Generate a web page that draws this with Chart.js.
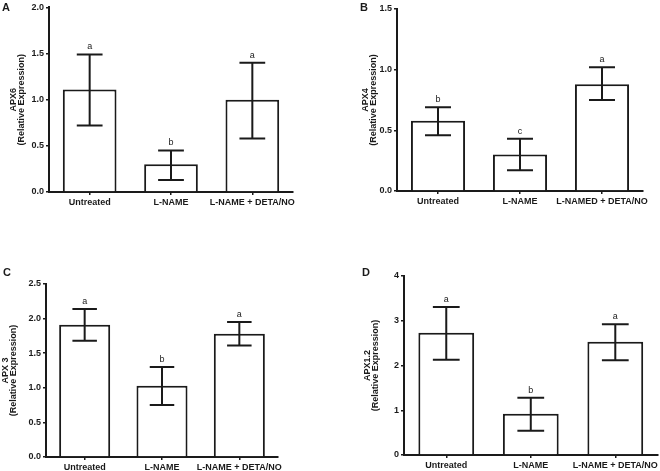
<!DOCTYPE html>
<html>
<head>
<meta charset="utf-8">
<script src="https://cdn.jsdelivr.net/npm/chart.js@4.4.1/dist/chart.umd.min.js"></script>
<style>
  body { margin: 0; background: #fff; }
  #wrap { position: relative; width: 660px; height: 471px; overflow: hidden; }
  .panel { position: absolute; }
  .tag { position: absolute; font: bold 11px "Liberation Sans", Arial, sans-serif; color: #1a1a1a; }
</style>
</head>
<body>
<div id="wrap">
  <div class="panel" style="left:0;top:0;width:330px;height:235px"><canvas id="chartA"></canvas></div>
  <div class="panel" style="left:330px;top:0;width:330px;height:235px"><canvas id="chartB"></canvas></div>
  <div class="panel" style="left:0;top:235px;width:330px;height:236px"><canvas id="chartC"></canvas></div>
  <div class="panel" style="left:330px;top:235px;width:330px;height:236px"><canvas id="chartD"></canvas></div>
  <div class="tag" style="left:2px;top:1px">A</div>
  <div class="tag" style="left:360px;top:1px">B</div>
  <div class="tag" style="left:3px;top:266px">C</div>
  <div class="tag" style="left:362px;top:266px">D</div>
</div>
<script>
// treatment groups
const groups = ['Untreated', 'L-NAME', 'L-NAME + DETA/NO'];
const groupsB = ['Untreated', 'L-NAME', 'L-NAMED + DETA/NO'];

// APX6
const apx6Mean = [1.11, 0.30, 1.00];
const apx6Low = [0.72, 0.13, 0.58];
const apx6High = [1.49, 0.45, 1.40];
const apx6Letters = ['a', 'b', 'a'];

// APX4
const apx4Mean = [0.58, 0.30, 0.88];
const apx4Low = [0.46, 0.17, 0.75];
const apx4High = [0.69, 0.43, 1.02];
const apx4Letters = ['b', 'c', 'a'];

// APX 3
const apx3Mean = [1.91, 1.03, 1.78];
const apx3Low = [1.68, 0.75, 1.61];
const apx3High = [2.14, 1.30, 1.95];
const apx3Letters = ['a', 'b', 'a'];

// APX1.2
const apx12Mean = [2.73, 0.92, 2.53];
const apx12Low = [2.13, 0.54, 2.12];
const apx12High = [3.31, 1.28, 2.92];
const apx12Letters = ['a', 'b', 'a'];

const INK = '#1a1a1a';
const FONT = '"Liberation Sans", Arial, sans-serif';

Chart.defaults.animation = false;
Chart.defaults.font.family = FONT;
Chart.defaults.color = INK;

// draws the SD bars and the significance letters on top of each bar
const errorBars = {
  id: 'errorBars',
  afterDatasetsDraw(chart, args, opts) {
    const ctx = chart.ctx;
    const y = chart.scales.y;
    const meta = chart.getDatasetMeta(0);
    ctx.save();
    ctx.strokeStyle = INK;
    ctx.lineWidth = 2;
    meta.data.forEach((bar, i) => {
      const x = bar.x;
      const half = bar.width * 0.24;
      const top = y.getPixelForValue(opts.high[i]);
      const bot = y.getPixelForValue(opts.low[i]);
      ctx.beginPath();
      ctx.moveTo(x, top); ctx.lineTo(x, bot);
      ctx.moveTo(x - half, top); ctx.lineTo(x + half, top);
      ctx.moveTo(x - half, bot); ctx.lineTo(x + half, bot);
      ctx.stroke();
      ctx.fillStyle = INK;
      ctx.font = '9px ' + FONT;
      ctx.textAlign = 'center';
      ctx.textBaseline = 'alphabetic';
      ctx.fillText(opts.letters[i], x, top - 5);
    });
    ctx.restore();
  }
};

function makePanel(id, labels, means, low, high, letters, yMax, step, decimals, title, box) {
  new Chart(document.getElementById(id), {
    type: 'bar',
    data: {
      labels: labels,
      datasets: [{
        data: means,
        backgroundColor: '#fff',
        borderColor: INK,
        borderWidth: 2,
        categoryPercentage: 1,
        barPercentage: 0.66
      }]
    },
    options: {
      responsive: true,
      maintainAspectRatio: false,
      layout: { padding: { left: box.left, top: box.top, right: box.right, bottom: box.bottom } },
      plugins: {
        legend: { display: false },
        tooltip: { enabled: false },
        errorBars: { low: low, high: high, letters: letters }
      },
      scales: {
        x: {
          afterFit: s => { s.height = box.xh; },
          grid: { display: true, drawOnChartArea: false, offset: false, tickLength: 3, color: INK, lineWidth: 1.5 },
          border: { display: true, color: INK, width: 2 },
          ticks: { padding: 2, font: { size: 9, weight: 'bold' }, maxRotation: 0, autoSkip: false }
        },
        y: {
          min: 0,
          max: yMax,
          afterFit: s => { s.width = box.yw; },
          grid: { display: true, drawOnChartArea: false, tickLength: 3, color: INK, lineWidth: 1.5 },
          border: { display: true, color: INK, width: 2 },
          ticks: {
            stepSize: step,
            padding: 2,
            font: { size: 9, weight: 'bold' },
            callback: v => v.toFixed(decimals)
          },
          title: {
            display: true,
            text: title,
            font: { size: 9, weight: 'bold', lineHeight: 0.9 },
            padding: { top: 0, bottom: 0 }
          }
        }
      }
    },
    plugins: [errorBars]
  });
}

makePanel('chartA', groups, apx6Mean, apx6Low, apx6High, apx6Letters, 2.0, 0.5, 1,
  ['APX6', '(Relative Expression)'], { left: 9, top: 7, right: 37, bottom: 23, yw: 40, xh: 20 });
makePanel('chartB', groupsB, apx4Mean, apx4Low, apx4High, apx4Letters, 1.5, 0.5, 1,
  ['APX4', '(Relative Expression)'], { left: 31, top: 9, right: 17, bottom: 24, yw: 36, xh: 20 });
makePanel('chartC', groups, apx3Mean, apx3Low, apx3High, apx3Letters, 2.5, 0.5, 1,
  ['APX 3', '(Relative Expression)'], { left: 1, top: 49, right: 52, bottom: 0, yw: 45, xh: 14 });
makePanel('chartD', groups, apx12Mean, apx12Low, apx12High, apx12Letters, 4, 1, 0,
  ['APX1.2', '(Relative Expression)'], { left: 33, top: 41, right: 1, bottom: 0, yw: 41, xh: 16 });
</script>
</body>
</html>
